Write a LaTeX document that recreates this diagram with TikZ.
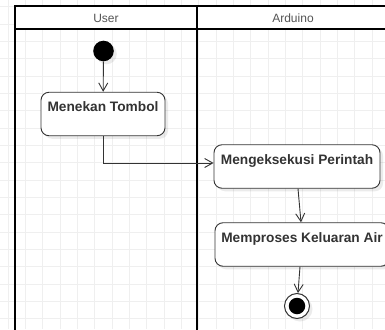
\documentclass[tikz,border=0pt]{standalone}
\usepackage{fontspec}
\setmainfont{Liberation Sans}
\usetikzlibrary{arrows.meta,shadows}
\definecolor{linegray}{HTML}{333333}
\definecolor{gridgray}{HTML}{EFEFEF}
\definecolor{headgray}{HTML}{555555}
\begin{document}
\begin{tikzpicture}[x=1pt,y=-1pt,
  gridline/.style={draw=gridgray,line width=0.8pt},
  lane/.style={draw=black,line width=1.8pt},
  lanetitle/.style={font=\fontsize{12}{14}\selectfont,text=headgray,inner sep=0pt},
  softshadow/.style={drop shadow={shadow xshift=3pt,shadow yshift=-3pt,fill=black,opacity=0.08}},
  action/.style={draw=linegray,line width=0.9pt,rounded corners=8pt,fill=white,softshadow,
    font=\fontsize{13.7}{16}\selectfont\bfseries,text=linegray,
    inner xsep=3pt,inner ysep=0pt,text height=19.5pt,text depth=24pt},
  startdot/.style={circle,fill=black,inner sep=0pt,minimum size=20.6pt,softshadow},
  endring/.style={circle,draw=linegray,line width=1pt,fill=white,inner sep=0pt,minimum size=25pt,softshadow},
  enddot/.style={circle,fill=black,inner sep=0pt,minimum size=16.5pt},
  flow/.style={draw=linegray,line width=0.9pt,-{Straight Barb[length=8pt,width=9pt]}}]
\useasboundingbox (0,0) rectangle (385,329);
\clip (0,0) rectangle (385,329);
% grid
\foreach \i in {0,...,22}
  \draw[gridline] ({8+17.33*\i},0) -- ++(0,329);
\foreach \j in {0,...,19}
  \draw[gridline] (0,{6.7+17.33*\j}) -- ++(385,0);
% swimlanes
\draw[lane,fill=white] (15,6) rectangle (389,29);
\draw[lane] (15,6) -- (15,340);
\draw[lane] (197,6) -- (197,340);
\draw[lane] (389,6) -- (389,340);
\node[lanetitle] (usertitle) at (106,18) {User};
\node[lanetitle] (arduinotitle) at (293,18) {Arduino};
% activities
\node[action,minimum width=124pt] (tombol) at (103,114) {Menekan Tombol};
\node[startdot] (start) at (103.5,51) {};
\node[action,minimum width=166pt] (eksekusi) at (297,166.5) {Mengeksekusi Perintah};
\node[action,minimum width=174pt] (keluaran) at (302,244.5) {Memproses Keluaran Air};
\node[endring] (final) at (297,306) {};
\node[enddot] (finaldot) at (final) {};
% flows
\draw[flow] (start) -- (tombol);
\draw[flow] (tombol.south) |- ([yshift=3.5pt]eksekusi.west);
\draw[flow] ([xshift=1pt]eksekusi.south) -- ([xshift=-1pt]keluaran.north);
\draw[flow] ([xshift=-2pt]keluaran.south) -- (final);
\end{tikzpicture}
\end{document}
